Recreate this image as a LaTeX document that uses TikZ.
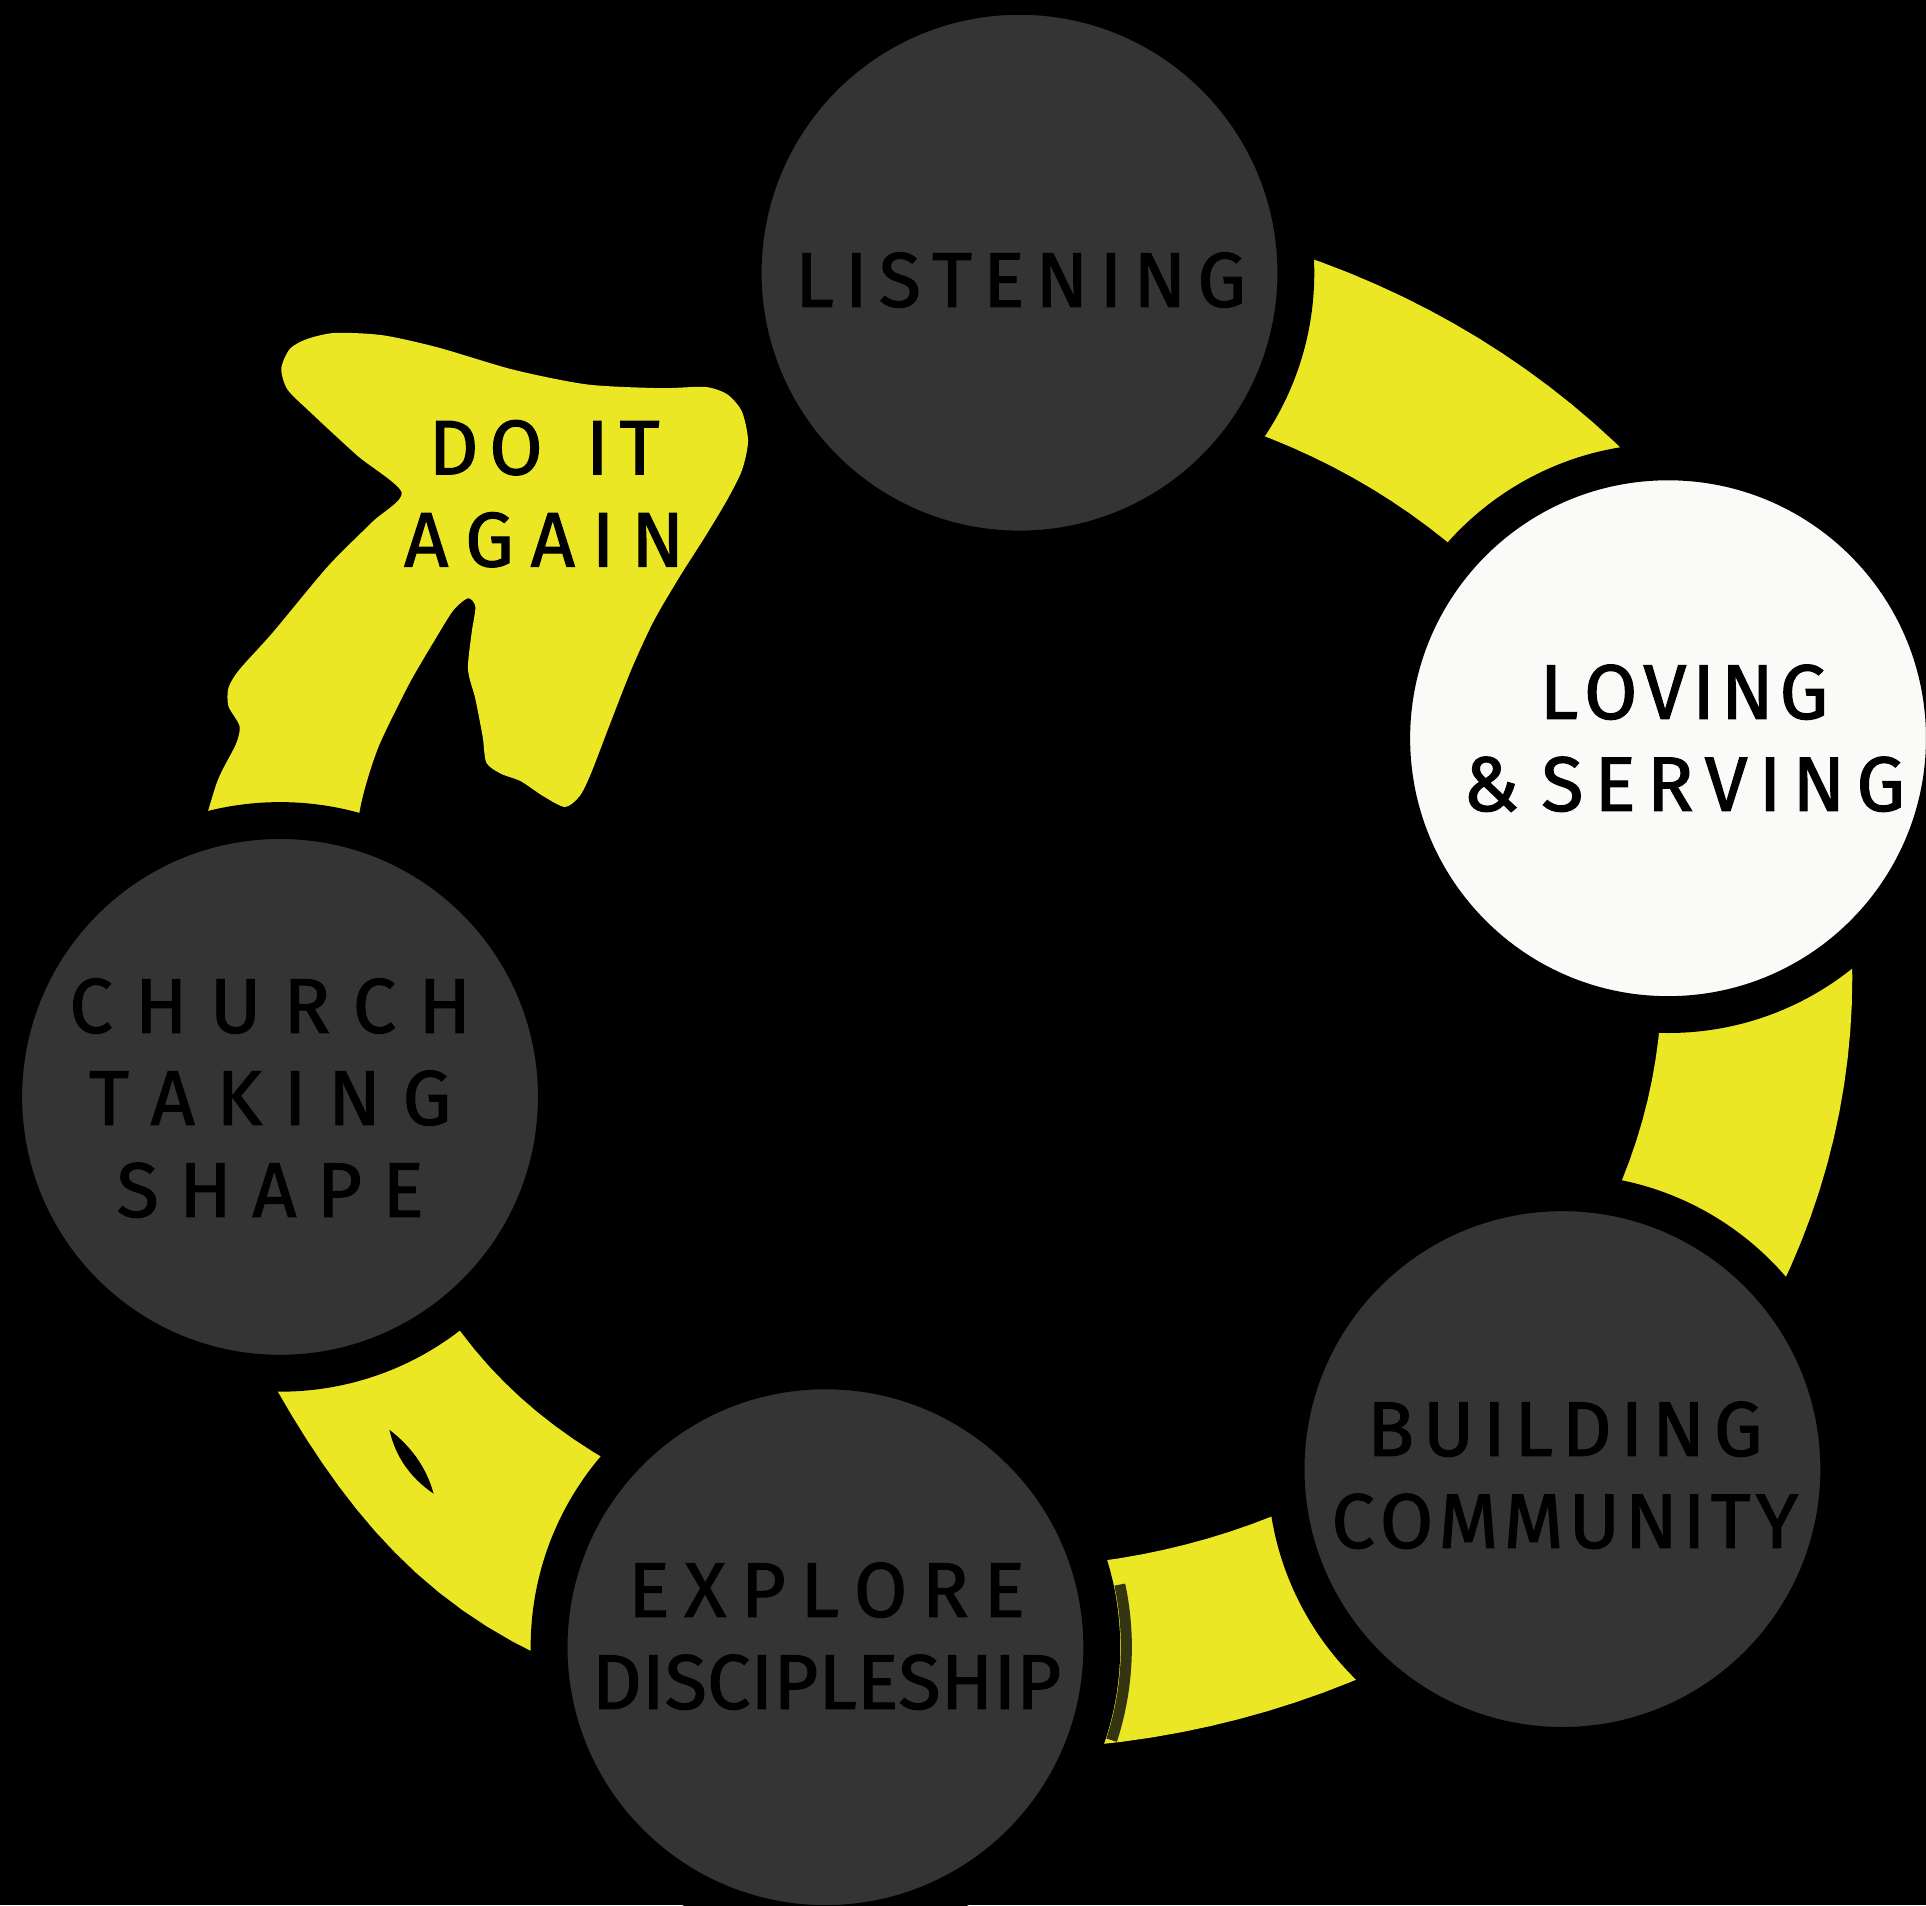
\documentclass[tikz,border=0pt]{standalone}
\usepackage{fontspec}
\setmainfont{Fira Sans}[FakeBold=1.5]
\definecolor{ylw}{RGB}{236,231,36}
\definecolor{dgrey}{RGB}{52,52,52}
\definecolor{wht}{RGB}{250,250,248}
\definecolor{olv}{RGB}{52,52,16}
\newcommand\spreadline[2]{\hbox to #1cm{#2}}
\newcommand\wgap{\hskip 0pt plus 2fill\relax}
\newcommand\wwgap{\hskip 0pt plus 4fill\relax}
\tikzset{
  disc/.style={circle, minimum size=5.527cm, inner sep=0pt, draw=black, line width=0.3685cm},
  lbl/.style={inner sep=0pt, align=center, font=\fontsize{22}{26.2}\selectfont, text=black}
}
\begin{document}
\begin{tikzpicture}[x=0.012283cm, y=-0.012283cm]
\useasboundingbox (0,0) rectangle (1568,1551);
\fill[black] (0,0) rectangle (1568,1551);
% ring band (ellipse-like, slightly bulged at lower left)
\begin{scope}
  \clip (830,-20) -- (1600,-20) -- (1600,1600) -- (-20,1600) -- (-20,730) -- (830,730) -- cycle;
  \fill[ylw, even odd rule]
    plot[domain=0:360, samples=181]
      ({818+690*cos(\x)*(1+0.04*exp(-((\x-128)/18)^2))},
       {796+628*sin(\x)*(1+0.04*exp(-((\x-128)/18)^2))}) -- cycle
    plot[domain=0:360, samples=181]
      ({818+535*cos(\x)*(1+0.025*exp(-((\x-138)/20)^2))},
       {796+480*sin(\x)*(1+0.025*exp(-((\x-138)/20)^2))}) -- cycle;
\end{scope}
% arrow head and shaft
\fill[ylw] plot[smooth cycle, tension=0.45] coordinates {
 (229,300) (236,284) (250,276) (273,271) (312,273) (357,283) (418,301) (478,313) (538,316)
 (574,315) (592,321) (604,335) (609,359) (604,383) (592,407) (574,437) (553,470) (532,506)
 (514,545) (496,591) (481,630) (472,648) (460,657) (442,648) (424,636) (408,630) (396,621)
 (393,600) (387,569) (381,545) (384,515) (387,494) (381,487) (369,497) (354,521) (333,557)
 (309,606) (297,642) (291,672) (287,730) (140,730) (160,690) (177,636) (192,606) (195,591)
 (186,575) (186,560) (195,545) (222,515) (267,461) (303,425) (327,401) (291,371) (252,335)
 (234,317)};
% small lens-shaped hole in the band
\fill[black] (317,1164) .. controls (334,1177) and (347,1194) .. (353,1216)
             .. controls (334,1203) and (322,1186) .. (317,1164) -- cycle;
% circles
\node[disc, fill=dgrey] (listen) at (830,222) {};
\node[disc, fill=wht] (love) at (1358,601) {};
\node[disc, fill=dgrey] (build) at (1272,1196) {};
\node[disc, fill=dgrey] (explore) at (672,1341) {};
\node[disc, fill=dgrey] (church) at (228,893) {};
% dark strip beside the band next to Explore
\draw[olv, line width=0.11cm] (explore.center) ++(-12:245) arc[start angle=-12, end angle=18, radius=245];
% texts
\node[lbl] (tlisten) at (831,228) {\spreadline{4.508}{L\hfill I\hfill S\hfill T\hfill E\hfill N\hfill I\hfill N\hfill G}};
\node[lbl] (tlove) at (1371,601) {\spreadline{2.887}{L\hfill O\hfill V\hfill I\hfill N\hfill G}\\
  \spreadline{4.422}{\&\wgap S\hfill E\hfill R\hfill V\hfill I\hfill N\hfill G}};
\node[lbl] (tbuild) at (1274,1201) {\spreadline{3.955}{B\hfill U\hfill I\hfill L\hfill D\hfill I\hfill N\hfill G}\\
  \spreadline{4.668}{C\hfill O\hfill M\hfill M\hfill U\hfill N\hfill I\hfill T\hfill Y}};
\node[lbl] (texplore) at (673,1332) {\spreadline{3.967}{E\hfill X\hfill P\hfill L\hfill O\hfill R\hfill E}\\
  \spreadline{4.692}{D\hfill I\hfill S\hfill C\hfill I\hfill P\hfill L\hfill E\hfill S\hfill H\hfill I\hfill P}};
\node[lbl] (tchurch) at (220,894) {\spreadline{4.017}{C\hfill H\hfill U\hfill R\hfill C\hfill H}\\
  \spreadline{3.624}{T\hfill A\hfill K\hfill I\hfill N\hfill G}\\
  \spreadline{3.071}{S\hfill H\hfill A\hfill P\hfill E}};
\node[lbl] (tagain) at (443,402) {\spreadline{2.309}{D\hfill O\wwgap I\hfill T}\\
  \spreadline{2.801}{A\hfill G\hfill A\hfill I\hfill N}};
\end{tikzpicture}
\end{document}
